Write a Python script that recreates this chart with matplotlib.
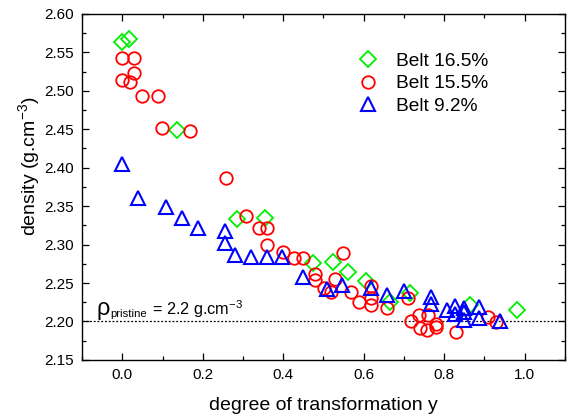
import matplotlib
matplotlib.use('agg')
import matplotlib.pyplot as plt
from matplotlib.ticker import MultipleLocator, FormatStrFormatter

# ---------------------------- data ----------------------------------
# degree of transformation y / density (g.cm-3)
y_165 = [0.0, 0.017, 0.135, 0.284, 0.355, 0.475, 0.524, 0.56, 0.607, 0.665,
         0.716, 0.864, 0.982]
rho_165 = [2.564, 2.567, 2.449, 2.333, 2.334, 2.276, 2.277, 2.264, 2.253, 2.225,
           2.237, 2.222, 2.215]

y_155 = [0.0, 0.029, 0.029, 0.0, 0.019, 0.049, 0.089, 0.099, 0.169,
         0.258, 0.308, 0.339, 0.36, 0.36, 0.399,
         0.428, 0.45, 0.549, 0.48, 0.48, 0.529, 0.502, 0.519, 0.568, 0.618,
         0.589, 0.618, 0.618, 0.659, 0.709,
         0.717, 0.738, 0.74, 0.761, 0.758, 0.779, 0.779, 0.829, 0.91, 0.928]
rho_155 = [2.542, 2.542, 2.523, 2.514, 2.511, 2.493, 2.493, 2.452, 2.448,
           2.387, 2.337, 2.322, 2.322, 2.300, 2.290,
           2.282, 2.282, 2.289, 2.262, 2.254, 2.255, 2.243, 2.238, 2.238, 2.246,
           2.225, 2.230, 2.221, 2.218, 2.230,
           2.201, 2.208, 2.191, 2.208, 2.189, 2.197, 2.193, 2.186, 2.206, 2.199]

y_92 = [0.0, 0.039, 0.109, 0.149, 0.188, 0.256, 0.256, 0.279, 0.32, 0.359,
        0.397, 0.45, 0.51, 0.547, 0.619, 0.659, 0.70, 0.768, 0.768, 0.806,
        0.827, 0.827, 0.85, 0.85, 0.85, 0.887, 0.887, 0.938]
rho_92 = [2.405, 2.361, 2.349, 2.335, 2.322, 2.318, 2.302, 2.286, 2.284, 2.284,
          2.284, 2.258, 2.242, 2.247, 2.243, 2.235, 2.239, 2.232, 2.223, 2.215,
          2.220, 2.210, 2.217, 2.212, 2.202, 2.219, 2.204, 2.201]

rho_pristine = 2.2

# ---------------------------- style ---------------------------------
plt.rcParams['font.family'] = ['Liberation Sans', 'DejaVu Sans']
plt.rcParams['mathtext.fontset'] = 'custom'
plt.rcParams['mathtext.rm'] = 'Liberation Sans'
plt.rcParams['mathtext.it'] = 'Liberation Sans'

fig = plt.figure(figsize=(5.74, 4.2), dpi=100)
ax = fig.add_axes([0.143, 0.143, 0.841, 0.824])

ax.axhline(rho_pristine, color='k', ls=(0, (1.5, 1.5)), lw=0.9, zorder=1)

ax.plot(y_165, rho_165, ls='none', marker='D', ms=7.8, mfc='none', mec='#00ee00',
        mew=1.3, label='Belt 16.5%', zorder=2)
ax.plot(y_155, rho_155, ls='none', marker='o', ms=9, mfc='none', mec='#ff0000',
        mew=1.3, label='Belt 15.5%', zorder=3)
ax.plot(y_92, rho_92, ls='none', marker='^', ms=10.5, mfc='none', mec='#0000ff',
        mew=1.5, label='Belt 9.2%', zorder=4)

# rho_pristine note: big rho, small subscript, then the value
x0, y0 = -0.064, 2.2081
ax.text(x0, y0, '\u03c1', fontsize=17, va='baseline')
ax.annotate('pristine', xy=(x0, y0), xytext=(9.9, -1.5), textcoords='offset points',
            fontsize=8.2, va='baseline')
ax.annotate('= 2.2 g.cm$^{-3}$', xy=(x0, y0), xytext=(40.1, 0), textcoords='offset points',
            fontsize=11.7, va='baseline')

ax.set_xlim(-0.1, 1.1)
ax.set_ylim(2.15, 2.60)
ax.xaxis.set_major_locator(MultipleLocator(0.2))
ax.xaxis.set_minor_locator(MultipleLocator(0.1))
ax.yaxis.set_major_locator(MultipleLocator(0.05))
ax.yaxis.set_minor_locator(MultipleLocator(0.025))
ax.xaxis.set_major_formatter(FormatStrFormatter('%.1f'))
ax.yaxis.set_major_formatter(FormatStrFormatter('%.2f'))
ax.tick_params(which='both', direction='in', top=True, right=True, labelsize=11)
ax.tick_params(which='major', length=5, width=0.9, pad=6)
ax.tick_params(which='minor', length=3, width=0.9)
for s in ax.spines.values():
    s.set_linewidth(1.0)

ax.set_xlabel('degree of transformation y', fontsize=14)
ax.set_ylabel('density (g.cm$^{-3}$)', fontsize=14)
ax.xaxis.set_label_coords(0.499, -0.107)
ax.yaxis.set_label_coords(-0.083, 0.56)

ax.legend(loc='upper left', bbox_to_anchor=(0.553, 0.91), frameon=False,
          numpoints=1, fontsize=13.8, handlelength=1.2, handletextpad=0.85,
          labelspacing=0.25, borderaxespad=0)

fig.savefig('out.png', dpi=100)
